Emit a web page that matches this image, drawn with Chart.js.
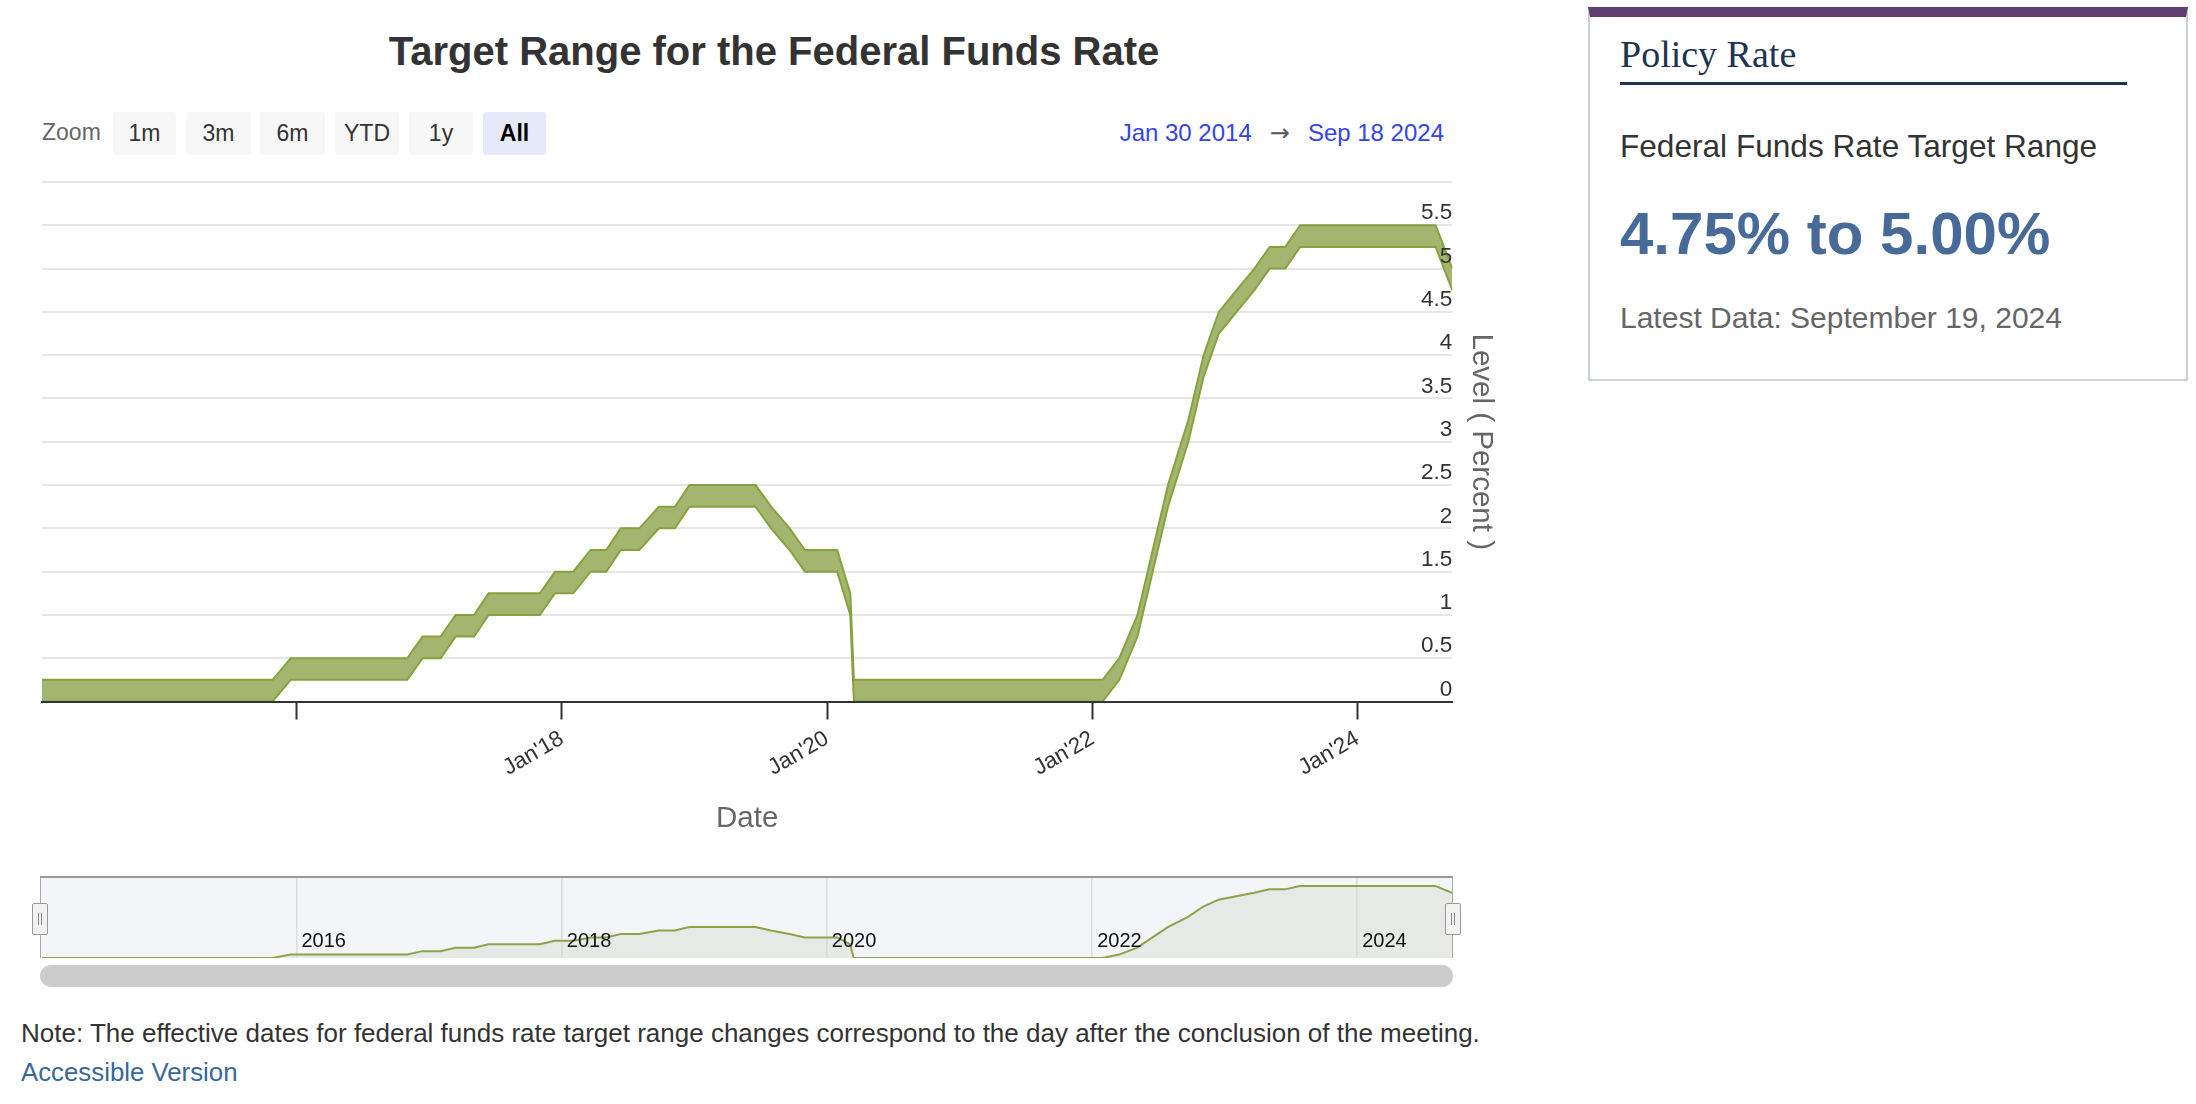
<!DOCTYPE html>
<html><head><meta charset="utf-8">
<script src="https://cdn.jsdelivr.net/npm/chart.js@4.4.1/dist/chart.umd.min.js"></script>
<style>
html,body{margin:0;padding:0;background:#fff;width:2196px;height:1104px;overflow:hidden;font-family:"Liberation Sans",Arial,sans-serif;}
.abs{position:absolute;white-space:nowrap;}
.btn{position:absolute;top:112px;height:43px;line-height:43px;text-align:center;font-size:23px;color:#333;background:#f7f7f7;border-radius:3px;}
.handle{position:absolute;top:903px;width:14px;height:30px;background:#f2f2f2;border:1px solid #999;border-radius:2px;}
.handle i{position:absolute;top:9px;width:1px;height:12px;background:#888;}
</style></head><body>

<div class="abs" style="left:0;width:1548px;text-align:center;top:31px;font-size:40px;line-height:40px;font-weight:bold;color:#333">Target Range for the Federal Funds Rate</div>

<div class="abs" style="left:42px;top:121px;font-size:23px;line-height:23px;color:#666">Zoom</div>
<div class="btn" style="left:113px;width:63px">1m</div>
<div class="btn" style="left:186px;width:65px">3m</div>
<div class="btn" style="left:260px;width:65px">6m</div>
<div class="btn" style="left:335px;width:64px">YTD</div>
<div class="btn" style="left:409px;width:64px">1y</div>
<div class="btn" style="left:483px;width:63px;background:#e6e9fa;font-weight:bold;color:#000">All</div>

<div class="abs" style="right:752px;top:121px;font-size:24px;line-height:24px;color:#3344ee"><span>Jan 30 2014</span><span style="color:#555;margin:0 18px;font-family:'DejaVu Sans',sans-serif;font-size:24px">→</span><span>Sep 18 2024</span></div>

<div id="mainWrap" class="abs" style="left:0;top:150px;width:1503px;height:691px"><canvas id="main"></canvas></div>

<div class="abs" style="left:40px;top:876px;width:1413px;height:82px;background:#f3f5f9"></div>
<div id="navWrap" class="abs" style="left:42px;top:877px;width:1410px;height:81px"><canvas id="nav"></canvas></div>
<div class="abs" style="left:40px;top:876px;width:1413px;height:82px;box-sizing:border-box;border-top:2px solid #999;border-left:1.5px solid #aaa;border-right:1.5px solid #aaa"></div>
<div class="handle" style="left:32px"><i style="left:5px"></i><i style="left:8px"></i></div>
<div class="handle" style="left:1445px"><i style="left:5px"></i><i style="left:8px"></i></div>
<div class="abs" style="left:40px;top:965px;width:1413px;height:22px;background:#cccccc;border-radius:11px"></div>

<div class="abs" style="left:21px;top:1020px;font-size:26px;line-height:26px;color:#333">Note: The effective dates for federal funds rate target range changes correspond to the day after the conclusion of the meeting.</div>
<div class="abs" style="left:21px;top:1059px;font-size:25.8px;line-height:26px;color:#36689b">Accessible Version</div>

<div class="abs" style="left:1588px;top:7px;width:600px;height:374px;box-sizing:border-box;border-top:10px solid #603f70;border-left:2px solid #ccd1d8;border-right:2px solid #ccd1d8;border-bottom:2px solid #ccd1d8"></div>
<div class="abs" style="left:1620px;top:35px;font-family:'Liberation Serif','Times New Roman',serif;font-size:38px;line-height:38px;color:#1d3354">Policy Rate</div>
<div class="abs" style="left:1620px;top:82px;width:507px;height:3px;background:#1e3452"></div>
<div class="abs" style="left:1620px;top:131px;font-size:31.6px;line-height:31px;color:#333">Federal Funds Rate Target Range</div>
<div class="abs" style="left:1620px;top:204px;font-size:60px;line-height:60px;font-weight:bold;color:#476a99">4.75% to 5.00%</div>
<div class="abs" style="left:1620px;top:303px;font-size:30px;line-height:30px;color:#666">Latest Data: September 19, 2024</div>

<script>
// ---- data ----
const rateDates = [
  '2014-01-30','2015-10-27','2015-12-16','2016-11-01','2016-12-13','2017-02-01',
  '2017-03-14','2017-05-04','2017-06-13','2017-11-01','2017-12-13','2018-02-01',
  '2018-03-21','2018-05-03','2018-06-12','2018-08-02','2018-09-25','2018-11-08',
  '2018-12-18','2019-06-18','2019-07-31','2019-09-20','2019-11-01','2020-01-29',
  '2020-03-05','2020-03-15','2022-01-29','2022-03-16','2022-05-05','2022-06-16',
  '2022-07-28','2022-09-22','2022-11-03','2022-12-15','2023-02-02','2023-03-23',
  '2023-05-04','2023-06-16','2023-07-27','2024-08-03','2024-09-18'
];
const lowerBound = [
  0, 0, 0.25, 0.25, 0.5, 0.5,
  0.75, 0.75, 1.0, 1.0, 1.25, 1.25,
  1.5, 1.5, 1.75, 1.75, 2.0, 2.0,
  2.25, 2.25, 2.0, 1.75, 1.5, 1.5,
  1.0, 0, 0, 0.25, 0.75, 1.5,
  2.25, 3.0, 3.75, 4.25, 4.5, 4.75,
  5.0, 5.0, 5.25, 5.25, 4.75
];
const upperBound = [
  0.25, 0.25, 0.5, 0.5, 0.75, 0.75,
  1.0, 1.0, 1.25, 1.25, 1.5, 1.5,
  1.75, 1.75, 2.0, 2.0, 2.25, 2.25,
  2.5, 2.5, 2.25, 2.0, 1.75, 1.75,
  1.25, 0.25, 0.25, 0.5, 1.0, 1.75,
  2.5, 3.25, 4.0, 4.5, 4.75, 5.0,
  5.25, 5.25, 5.5, 5.5, 5.0
];
const rangeStart = '2014-01-30';
const rangeEnd = '2024-09-18';
const axisTickDates = ['2016-01-01','2018-01-01','2020-01-01','2022-01-01','2024-01-01'];
const axisTickLabels = ['', "Jan'18", "Jan'20", "Jan'22", "Jan'24"];
const navTickLabels = ['2016','2018','2020','2022','2024'];

const toMs = s => Date.parse(s + 'T00:00:00Z');
Chart.defaults.font.family = '"Liberation Sans", Arial, sans-serif';

const lowerPts = rateDates.map((d, i) => ({x: toMs(d), y: lowerBound[i]}));
const upperPts = rateDates.map((d, i) => ({x: toMs(d), y: upperBound[i]}));

new Chart(document.getElementById('main'), {
  type: 'line',
  data: { datasets: [
    { label: 'Lower', data: lowerPts, borderColor: '#87a13d', borderWidth: 2, pointRadius: 0, fill: false, tension: 0 },
    { label: 'Upper', data: upperPts, borderColor: '#87a13d', borderWidth: 2, pointRadius: 0, fill: '-1', backgroundColor: '#a4b56f', tension: 0 }
  ]},
  options: {
    responsive: true, maintainAspectRatio: false, animation: false,
    layout: { padding: { left: 42, top: 32, right: 0, bottom: 0 } },
    plugins: { legend: { display: false }, tooltip: { enabled: false } },
    scales: {
      x: {
        type: 'linear', position: 'bottom', min: toMs(rangeStart), max: toMs(rangeEnd),
        afterBuildTicks: s => { s.ticks = axisTickDates.map(d => ({ value: toMs(d) })); },
        afterFit: s => { s.height = 139.5; },
        ticks: { autoSkip: false, minRotation: 30, maxRotation: 30, color: '#333', font: { size: 22.5 }, padding: 6,
                 callback: (v, i) => axisTickLabels[i] },
        grid: { display: true, drawOnChartArea: false, drawTicks: true, tickLength: 18, tickColor: '#333', tickWidth: 2 },
        border: { display: true, color: '#333', width: 2, z: 1 },
        title: { display: true, text: 'Date', color: '#666', font: { size: 29.5 }, padding: { top: 4, bottom: 4 } }
      },
      y: {
        position: 'right', min: 0, max: 6,
        afterFit: s => { s.width = 50.7; },
        ticks: { stepSize: 0.5, mirror: true, padding: 0, labelOffset: -12, color: '#333', font: { size: 22.5 }, z: 1,
                 callback: v => (v === 6 ? '' : String(v)) },
        grid: { color: '#e6e6e6', lineWidth: 2, drawTicks: false },
        border: { display: false },
        title: { display: true, text: 'Level ( Percent )', color: '#666', font: { size: 29.5 }, padding: { top: 4, bottom: 4 } }
      }
    }
  }
});

const navLabels = {
  id: 'navLabels',
  afterDraw(chart) {
    const { ctx, chartArea, scales: { x } } = chart;
    ctx.save();
    ctx.font = '20px "Liberation Sans", Arial, sans-serif';
    ctx.fillStyle = '#111';
    ctx.textBaseline = 'middle';
    ctx.textAlign = 'left';
    axisTickDates.forEach((d, i) => {
      ctx.fillText(navTickLabels[i], x.getPixelForValue(toMs(d)) + 5, chartArea.bottom - 17);
    });
    ctx.restore();
  }
};

new Chart(document.getElementById('nav'), {
  type: 'line',
  data: { datasets: [
    { data: lowerPts, borderColor: '#8aa447', borderWidth: 2, pointRadius: 0, fill: 'origin',
      backgroundColor: 'rgba(214,220,206,0.45)', tension: 0, clip: 4 }
  ]},
  options: {
    responsive: true, maintainAspectRatio: false, animation: false,
    layout: { padding: 0 },
    plugins: { legend: { display: false }, tooltip: { enabled: false } },
    scales: {
      x: { type: 'linear', min: toMs(rangeStart), max: toMs(rangeEnd),
           afterBuildTicks: s => { s.ticks = axisTickDates.map(d => ({ value: toMs(d) })); },
           ticks: { display: false }, grid: { color: '#dcdcdc', lineWidth: 1.5, drawTicks: false }, border: { display: false } },
      y: { display: false, min: 0, max: 5.9 }
    }
  },
  plugins: [navLabels]
});
</script>
</body></html>
